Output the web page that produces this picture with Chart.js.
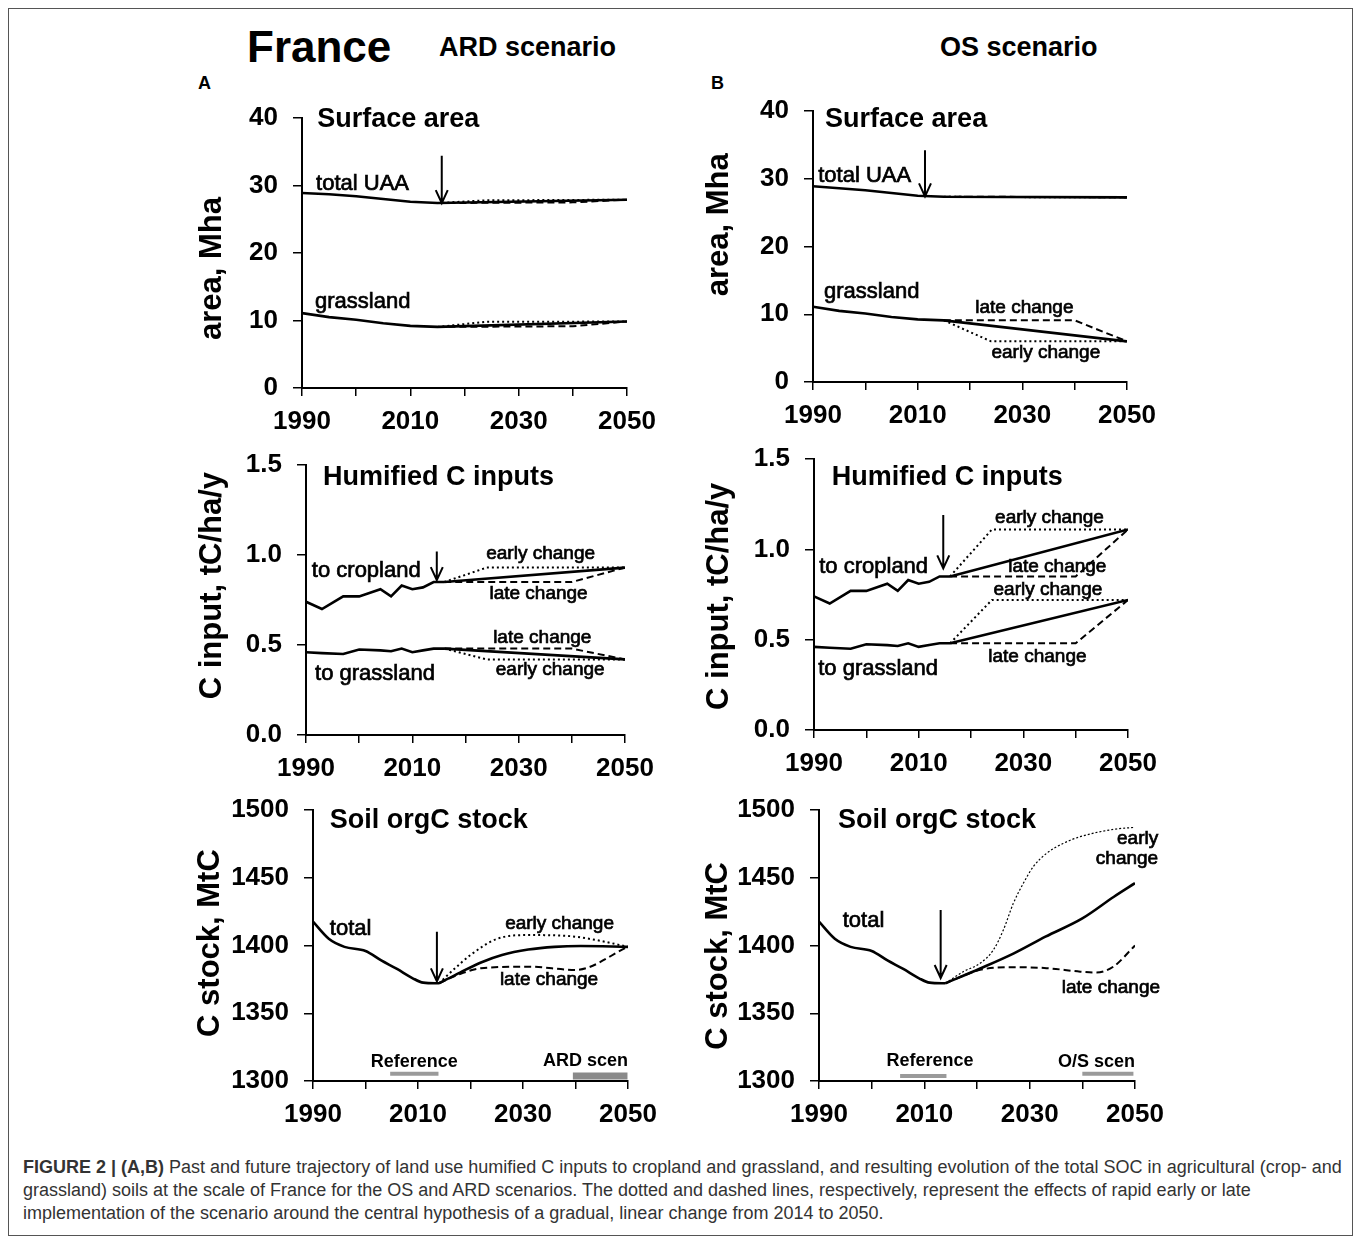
<!DOCTYPE html>
<html>
<head>
<meta charset="utf-8">
<script src="https://cdn.jsdelivr.net/npm/chart.js@4.4.1/dist/chart.umd.min.js"></script>
<style>
  body { margin: 0; background: #fff; width: 1358px; height: 1238px; position: relative; overflow: hidden;
         font-family: Arial, "Liberation Sans", sans-serif; }
  .frame { position: absolute; left: 8px; top: 8px; width: 1345px; height: 1228px; border: 1px solid #555; box-sizing: border-box; }
  .hd { position: absolute; font-weight: bold; line-height: 1; white-space: nowrap; color: #000; }
  canvas { position: absolute; }
  .cap { position: absolute; left: 23px; top: 1156px; font-size: 18px; line-height: 23px; color: #333; white-space: nowrap; }
</style>
</head>
<body>
<div class="frame"></div>
<div class="hd" style="left:247px;top:25px;font-size:44px">France</div>
<div class="hd" style="left:439px;top:34px;font-size:27px">ARD scenario</div>
<div class="hd" style="left:940px;top:34px;font-size:27px">OS scenario</div>
<div class="hd" style="left:198px;top:74px;font-size:18px">A</div>
<div class="hd" style="left:711px;top:74px;font-size:18px">B</div>

<canvas id="areaA"></canvas>
<canvas id="areaB"></canvas>
<canvas id="inputA"></canvas>
<canvas id="inputB"></canvas>
<canvas id="stockA"></canvas>
<canvas id="stockB"></canvas>

<div class="cap"><b>FIGURE 2 | (A,B)</b> Past and future trajectory of land use humified C inputs to cropland and grassland, and resulting evolution of the total SOC in agricultural (crop- and<br>grassland) soils at the scale of France for the OS and ARD scenarios. The dotted and dashed lines, respectively, represent the effects of rapid early or late<br>implementation of the scenario around the central hypothesis of a gradual, linear change from 2014 to 2050.</div>

<script>
// ---- data ----
const xLabelYears = [1990, 2010, 2030, 2050];

// surface area, Mha
const areaYears = [1990, 1995, 2000, 2005, 2010, 2015, 2050];
const areaEarlyYears = [2015, 2024, 2050];
const areaLateYears = [2015, 2040, 2050];
const uaaA = [28.9, 28.7, 28.4, 28.0, 27.6, 27.4, 27.9];
const uaaEarlyA = [27.4, 27.8, 27.9];
const uaaLateA = [27.4, 27.5, 27.9];
const grassA = [11.1, 10.5, 10.1, 9.6, 9.2, 9.05, 9.85];
const grassEarlyA = [9.05, 9.8, 9.85];
const grassLateA = [9.05, 9.15, 9.85];
const uaaB = [28.9, 28.6, 28.3, 27.9, 27.5, 27.35, 27.25];
const uaaEarlyB = [27.35, 27.3, 27.25];
const uaaLateB = [27.35, 27.3, 27.25];
const grassB = [11.1, 10.5, 10.1, 9.6, 9.25, 9.1, 6.0];
const grassEarlyB = [9.1, 6.0, 6.0];
const grassLateB = [9.1, 9.1, 6.0];

// humified C inputs, tC/ha/y
const inputYears = [1990, 1993, 1997, 2000, 2004, 2006, 2008, 2010, 2012, 2014, 2016];
const cropHist = [0.74, 0.70, 0.77, 0.77, 0.81, 0.77, 0.83, 0.81, 0.82, 0.85, 0.85];
const grassHist = [0.46, 0.455, 0.45, 0.475, 0.47, 0.465, 0.48, 0.46, 0.47, 0.48, 0.48];
const scenYears = [2016, 2050];
const earlyYears = [2016, 2024, 2050];
const lateYears = [2016, 2040, 2050];
const cropA = [0.85, 0.93], cropEarlyA = [0.85, 0.93, 0.93], cropLateA = [0.85, 0.85, 0.93];
const grInA = [0.48, 0.42], grInEarlyA = [0.48, 0.42, 0.42], grInLateA = [0.48, 0.48, 0.42];
const cropB = [0.85, 1.11], cropEarlyB = [0.85, 1.11, 1.11], cropLateB = [0.85, 0.85, 1.11];
const grInB = [0.48, 0.72], grInEarlyB = [0.48, 0.72, 0.72], grInLateB = [0.48, 0.48, 0.72];

// soil organic C stock, MtC
const stockHistYears = [1990, 1993, 1996, 2000, 2003, 2006, 2009, 2011, 2014];
const stockHist = [1417.6, 1405, 1399, 1396, 1389, 1382.7, 1375.8, 1372.6, 1372.1];
const stockYearsA = [2014, 2018, 2022, 2026, 2031, 2036, 2041, 2050];
const stockA = [1372.1, 1380, 1387.5, 1393, 1397, 1399, 1399.6, 1399];
const stockEarlyYearsA = [2014, 2017, 2020, 2025, 2031, 2038, 2044, 2050];
const stockEarlyA = [1372.1, 1383, 1393, 1404.8, 1407.7, 1407.2, 1404, 1399];
const stockLateYearsA = [2014, 2018, 2022, 2031, 2040, 2050];
const stockLateA = [1372.1, 1379, 1383.2, 1384.4, 1382, 1399];
const stockYearsB = [2014, 2020.6, 2027, 2033, 2040, 2046, 2050];
const stockB = [1372.1, 1383, 1394.2, 1406.5, 1420, 1436, 1446];
const stockEarlyYearsB = [2014, 2017.4, 2020.6, 2023.1, 2025, 2026.9, 2028.8, 2030.7, 2033.2, 2036.4, 2039.6, 2045.9, 2050];
const stockEarlyB = [1372.1, 1380.7, 1386.9, 1396.7, 1411.4, 1431.1, 1445.9, 1458.2, 1468, 1475.4, 1480.3, 1485.7, 1487.2];
const stockLateYearsB = [2014, 2020.6, 2026.9, 2033.2, 2039.6, 2042.7, 2045.9, 2050];
const stockLateB = [1372.1, 1382, 1384, 1383.3, 1380.7, 1380, 1384.4, 1400];

// reference / scenario periods shown as bars at the bottom
const refPeriodA = [2004.7, 2013.9], scenPeriodA = [2039.5, 2049.9];
const refPeriodB = [2005.4, 2014.2], scenPeriodB = [2040, 2049.7];

// ---- helpers ----
const FONT = 'Arial, "Liberation Sans", sans-serif';

function series(xs, ys, kind) {
  const ds = {
    data: xs.map((x, i) => ({ x: x, y: ys[i] })),
    borderColor: '#000', pointRadius: 0, fill: false, borderWidth: 2.6, tension: 0
  };
  if (kind === 'dash') { ds.borderWidth = 2; ds.borderDash = [7, 4]; }
  if (kind === 'dot') { ds.borderWidth = 2; ds.borderDash = [2, 3]; }
  if (kind === 'fine') { ds.borderWidth = 1.2; ds.borderDash = [2, 2]; }
  return ds;
}

function bar(xs, yv, width, color) {
  return { data: xs.map(x => ({ x: x, y: yv })), borderColor: color, borderWidth: width,
           borderCapStyle: 'butt', pointRadius: 0, fill: false };
}

function decor(d) {
  return {
    id: 'decor',
    afterDatasetsDraw(chart) {
      const { ctx, chartArea } = chart;
      const x = chart.scales.x, y = chart.scales.y;
      ctx.save();
      ctx.fillStyle = '#000';
      ctx.strokeStyle = '#000';
      // arrow
      const ax = x.getPixelForValue(d.arrow[0]);
      const a1 = y.getPixelForValue(d.arrow[1]), a2 = y.getPixelForValue(d.arrow[2]);
      ctx.lineWidth = 2;
      ctx.beginPath();
      ctx.moveTo(ax, a1); ctx.lineTo(ax, a2);
      ctx.moveTo(ax - 6, a2 - 13); ctx.lineTo(ax, a2); ctx.lineTo(ax + 6, a2 - 13);
      ctx.stroke();
      // labels
      ctx.textBaseline = 'alphabetic';
      ctx.lineWidth = 0.7;
      d.texts.forEach(t => {
        ctx.font = (t.bold ? 'bold ' : '') + t.size + 'px ' + FONT;
        ctx.textAlign = t.align || 'left';
        const px = x.getPixelForValue(t.x), py = y.getPixelForValue(t.y);
        ctx.fillText(t.text, px, py);
        if (!t.bold) ctx.strokeText(t.text, px, py);   // the scanned labels read a bit heavier
      });
      // y axis title
      ctx.translate(chartArea.left + d.yTitle.dx, y.getPixelForValue(d.yTitle.y));
      ctx.rotate(-Math.PI / 2);
      ctx.textAlign = 'center';
      ctx.textBaseline = 'middle';
      ctx.font = 'bold 31px ' + FONT;
      ctx.fillText(d.yTitle.text, 0, 0);
      ctx.restore();
    }
  };
}

function panel(id, box, yAxis, datasets, d) {
  const padL = 130, padT = 40, padR = 50, padB = 60;
  const cv = document.getElementById(id);
  cv.width = box.R - box.L + padL + padR;
  cv.height = box.B - box.T + padT + padB;
  cv.style.left = (box.L - padL) + 'px';
  cv.style.top = (box.T - padT) + 'px';
  const tickFont = { family: FONT, size: 26, weight: 'bold' };
  new Chart(cv, {
    type: 'line',
    data: { datasets: datasets },
    options: {
      responsive: false,
      animation: false,
      layout: { padding: { top: padT, right: padR, left: 0, bottom: 0 } },
      plugins: { legend: { display: false }, tooltip: { enabled: false } },
      scales: {
        x: {
          type: 'linear', min: 1990, max: 2050,
          afterFit(s) { s.height = padB; },
          ticks: { stepSize: 10, autoSkip: false, maxRotation: 0, padding: 10, color: '#000', font: tickFont,
                   callback: v => xLabelYears.includes(v) ? String(v) : '' },
          grid: { drawOnChartArea: false, tickLength: 8, color: '#000', lineWidth: 1.5 },
          border: { color: '#000', width: 2 }
        },
        y: {
          min: yAxis.min, max: yAxis.max,
          afterFit(s) { s.width = padL; },
          ticks: { stepSize: yAxis.step, padding: 15, color: '#000', font: tickFont,
                   callback: v => v.toFixed(yAxis.dec) },
          grid: { drawOnChartArea: false, tickLength: 9, color: '#000', lineWidth: 1.5 },
          border: { color: '#000', width: 2 }
        }
      }
    },
    plugins: [decor(d)]
  });
}

const small = 19, mid = 22;

// ---- panel A, surface area ----
panel('areaA', { L: 302, R: 627, T: 118, B: 388 }, { min: 0, max: 40, step: 10, dec: 0 }, [
  series(areaEarlyYears, uaaEarlyA, 'dot'),
  series(areaLateYears, uaaLateA, 'dash'),
  series(areaEarlyYears, grassEarlyA, 'dot'),
  series(areaLateYears, grassLateA, 'dash'),
  series(areaYears, uaaA),
  series(areaYears, grassA)
], {
  arrow: [2015.8, 34.4, 27.4],
  yTitle: { text: 'area, Mha', dx: -90, y: 17.7 },
  texts: [
    { text: 'Surface area', x: 1992.8, y: 38.7, size: 27, bold: true },
    { text: 'total UAA', x: 1992.6, y: 29.4, size: mid },
    { text: 'grassland', x: 1992.4, y: 11.8, size: mid }
  ]
});

// ---- panel B, surface area ----
panel('areaB', { L: 813, R: 1127, T: 111, B: 382 }, { min: 0, max: 40, step: 10, dec: 0 }, [
  series(areaEarlyYears, uaaEarlyB, 'dot'),
  series(areaLateYears, uaaLateB, 'dash'),
  series(areaEarlyYears, grassEarlyB, 'dot'),
  series(areaLateYears, grassLateB, 'dash'),
  series(areaYears, uaaB),
  series(areaYears, grassB)
], {
  arrow: [2011.4, 34.2, 27.4],
  yTitle: { text: 'area, Mha', dx: -94, y: 23.2 },
  texts: [
    { text: 'Surface area', x: 1992.3, y: 37.6, size: 27, bold: true },
    { text: 'total UAA', x: 1991, y: 29.56, size: mid },
    { text: 'grassland', x: 1992.1, y: 12.35, size: mid },
    { text: 'late change', x: 2021, y: 10.23, size: small },
    { text: 'early change', x: 2024.1, y: 3.5, size: small }
  ]
});

// ---- panel A, humified C inputs ----
panel('inputA', { L: 306, R: 625, T: 465, B: 735 }, { min: 0, max: 1.5, step: 0.5, dec: 1 }, [
  series(earlyYears, cropEarlyA, 'dot'),
  series(lateYears, cropLateA, 'dash'),
  series(earlyYears, grInEarlyA, 'dot'),
  series(lateYears, grInLateA, 'dash'),
  series(inputYears, cropHist),
  series(scenYears, cropA),
  series(inputYears, grassHist),
  series(scenYears, grInA)
], {
  arrow: [2014.6, 1.02, 0.86],
  yTitle: { text: 'C input, tC/ha/y', dx: -94, y: 0.83 },
  texts: [
    { text: 'Humified C inputs', x: 1993.2, y: 1.389, size: 27, bold: true },
    { text: 'to cropland', x: 1991.1, y: 0.876, size: mid },
    { text: 'early change', x: 2023.9, y: 0.976, size: small },
    { text: 'late change', x: 2024.5, y: 0.754, size: small },
    { text: 'late change', x: 2025.2, y: 0.513, size: small },
    { text: 'to grassland', x: 1991.7, y: 0.306, size: mid },
    { text: 'early change', x: 2025.7, y: 0.333, size: small }
  ]
});

// ---- panel B, humified C inputs ----
panel('inputB', { L: 814, R: 1128, T: 459, B: 730 }, { min: 0, max: 1.5, step: 0.5, dec: 1 }, [
  series(earlyYears, cropEarlyB, 'dot'),
  series(lateYears, cropLateB, 'dash'),
  series(earlyYears, grInEarlyB, 'dot'),
  series(lateYears, grInLateB, 'dash'),
  series(inputYears, cropHist),
  series(scenYears, cropB),
  series(inputYears, grassHist),
  series(scenYears, grInB)
], {
  arrow: [2014.7, 1.19, 0.895],
  yTitle: { text: 'C input, tC/ha/y', dx: -95, y: 0.74 },
  texts: [
    { text: 'Humified C inputs', x: 1993.4, y: 1.356, size: 27, bold: true },
    { text: 'to cropland', x: 1991, y: 0.867, size: mid },
    { text: 'early change', x: 2024.6, y: 1.147, size: small },
    { text: 'late change', x: 2027.1, y: 0.873, size: small },
    { text: 'early change', x: 2024.3, y: 0.747, size: small },
    { text: 'late change', x: 2023.3, y: 0.378, size: small },
    { text: 'to grassland', x: 1990.8, y: 0.304, size: mid }
  ]
});

// ---- panel A, soil organic C stock ----
panel('stockA', { L: 313, R: 628, T: 810, B: 1081 }, { min: 1300, max: 1500, step: 50, dec: 0 }, [
  Object.assign(series(stockEarlyYearsA, stockEarlyA, 'dot'), { cubicInterpolationMode: 'monotone' }),
  Object.assign(series(stockLateYearsA, stockLateA, 'dash'), { cubicInterpolationMode: 'monotone' }),
  Object.assign(series(stockHistYears, stockHist), { cubicInterpolationMode: 'monotone' }),
  Object.assign(series(stockYearsA, stockA), { cubicInterpolationMode: 'monotone' }),
  bar(refPeriodA, 1305.4, 4, '#9a9a9a'),
  bar(scenPeriodA, 1303.7, 7, '#8a8a8a')
], {
  arrow: [2013.6, 1410.2, 1373.5],
  yTitle: { text: 'C stock, MtC', dx: -103, y: 1401.8 },
  texts: [
    { text: 'Soil orgC stock', x: 1993.2, y: 1486.7, size: 27, bold: true },
    { text: 'total', x: 1993.2, y: 1407.7, size: mid },
    { text: 'early change', x: 2026.6, y: 1412, size: small },
    { text: 'late change', x: 2025.6, y: 1370.8, size: small },
    { text: 'Reference', x: 2001, y: 1310.1, size: 18, bold: true },
    { text: 'ARD scen', x: 2050, y: 1311, size: 18, bold: true, align: 'right' }
  ]
});

// ---- panel B, soil organic C stock ----
panel('stockB', { L: 819, R: 1135, T: 810, B: 1081 }, { min: 1300, max: 1500, step: 50, dec: 0 }, [
  Object.assign(series(stockEarlyYearsB, stockEarlyB, 'fine'), { cubicInterpolationMode: 'monotone' }),
  Object.assign(series(stockLateYearsB, stockLateB, 'dash'), { cubicInterpolationMode: 'monotone' }),
  Object.assign(series(stockHistYears, stockHist), { cubicInterpolationMode: 'monotone' }),
  Object.assign(series(stockYearsB, stockB), { cubicInterpolationMode: 'monotone' }),
  bar(refPeriodB, 1303.7, 4, '#9a9a9a'),
  bar(scenPeriodB, 1305.4, 4, '#9a9a9a')
], {
  arrow: [2013.1, 1426.2, 1376],
  yTitle: { text: 'C stock, MtC', dx: -101, y: 1392.3 },
  texts: [
    { text: 'Soil orgC stock', x: 1993.6, y: 1486.7, size: 27, bold: true },
    { text: 'total', x: 1994.5, y: 1413.4, size: mid },
    { text: 'early', x: 2054.4, y: 1474.9, size: small, align: 'right' },
    { text: 'change', x: 2054.4, y: 1460.1, size: small, align: 'right' },
    { text: 'late change', x: 2036.1, y: 1364.7, size: small },
    { text: 'Reference', x: 2002.8, y: 1311, size: 18, bold: true },
    { text: 'O/S scen', x: 2050, y: 1310.1, size: 18, bold: true, align: 'right' }
  ]
});
</script>
</body>
</html>
